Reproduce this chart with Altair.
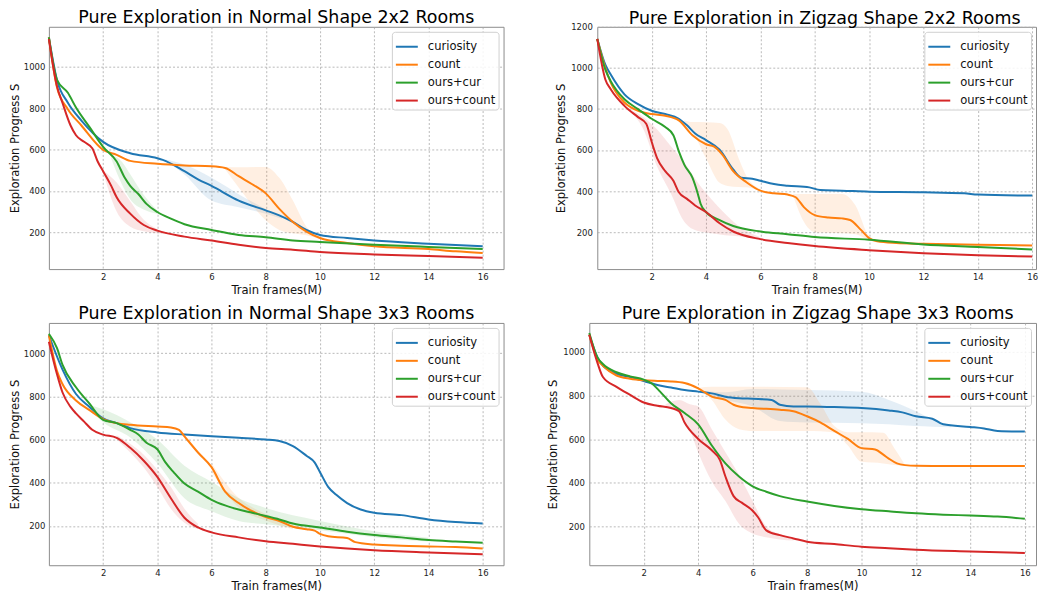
import altair as alt
import pandas as pd

SERIES = ["curiosity", "count", "ours+cur", "ours+count"]
COLORS = ["#1f77b4", "#ff7f0e", "#2ca02c", "#d62728"]
XTICKS = [2, 4, 6, 8, 10, 12, 14, 16]
FONT = "DejaVu Sans"

# ---------------- Panel 1: Normal Shape 2x2 ----------------
p1_cur_x = [0, 0.3, 0.7, 1.2, 2, 3, 4, 4.2, 5, 5.5, 6, 7, 8, 8.5, 9, 9.5, 10, 11, 12, 14, 16]
p1_cur_y = [1142, 935, 826, 740, 637, 582, 558, 550, 495, 456, 424, 353, 306, 282, 250, 211, 187, 172, 160, 145, 132]
p1_cnt_x = [0, 0.3, 0.7, 1.2, 2, 2.5, 3, 4, 5, 6, 6.5, 7, 7.5, 8, 8.5, 9, 9.5, 10, 11, 12, 14, 15, 16]
p1_cnt_y = [1142, 900, 795, 716, 598, 574, 545, 531, 523, 519, 511, 471, 432, 388, 313, 250, 203, 172, 148, 132, 119, 108, 100]
p1_oc_x = [0, 0.3, 0.7, 1, 1.5, 2, 2.5, 2.8, 3, 3.3, 3.6, 4, 4.5, 5, 6, 7, 8, 9, 10, 12, 14, 16]
p1_oc_y = [1142, 937, 874, 803, 708, 613, 542, 463, 424, 385, 337, 298, 266, 239, 211, 187, 176, 160, 153, 140, 129, 119]
p1_ok_x = [0, 0.3, 0.5, 0.8, 1, 1.3, 1.6, 1.8, 2, 2.3, 2.5, 3, 3.5, 4, 5, 6, 7, 8, 9, 10, 12, 14, 16]
p1_ok_y = [1134, 905, 826, 716, 669, 637, 606, 542, 495, 424, 369, 290, 235, 208, 179, 160, 140, 124, 116, 105, 93, 85, 77]

p1_cur_bx = [4.3, 5, 6, 7, 8, 8.6]
p1_cur_lo = [548, 479, 353, 321, 290, 265]
p1_cur_hi = [552, 527, 463, 384, 313, 275]
p1_cnt_bx = [6.5, 7, 8, 8.5, 9, 9.5, 10]
p1_cnt_lo = [505, 416, 258, 211, 195, 185, 166]
p1_cnt_hi = [515, 514, 516, 463, 353, 227, 178]
p1_oc_bx = [2.3, 2.7, 3, 3.5, 4]
p1_oc_lo = [555, 430, 360, 310, 290]
p1_oc_hi = [575, 540, 480, 380, 305]
p1_ok_bx = [2, 2.5, 3, 3.5, 4, 4.5]
p1_ok_lo = [490, 300, 227, 205, 195, 190]
p1_ok_hi = [500, 440, 350, 260, 215, 195]

# ---------------- Panel 2: Zigzag Shape 2x2 ----------------
p2_cur_x = [0, 0.3, 0.5, 1, 1.5, 2, 2.5, 3, 3.3, 3.6, 4, 4.5, 5, 5.3, 5.7, 6, 6.5, 7, 7.8, 8.2, 9, 10, 12, 13.5, 14, 16]
p2_cur_y = [1141, 1014, 966, 871, 823, 791, 775, 752, 720, 680, 648, 601, 505, 465, 460, 450, 434, 426, 418, 405, 402, 397, 394, 389, 383, 378]
p2_cnt_x = [0, 0.3, 0.5, 1, 1.5, 2, 2.5, 3, 3.5, 4, 4.3, 4.6, 5, 5.5, 6, 6.5, 7, 7.3, 7.6, 8, 8.5, 9, 9.3, 9.7, 10, 10.3, 11, 12, 14, 16]
p2_cnt_y = [1141, 998, 927, 831, 791, 775, 767, 744, 672, 628, 616, 577, 497, 442, 402, 389, 383, 370, 322, 283, 271, 267, 259, 211, 171, 155, 147, 143, 138, 135]
p2_oc_x = [0, 0.3, 0.5, 1, 1.5, 2, 2.5, 2.8, 3, 3.2, 3.5, 3.7, 3.8, 4, 4.5, 5, 6, 7, 8, 10, 12, 14, 16]
p2_oc_y = [1141, 990, 934, 847, 799, 752, 712, 672, 593, 529, 465, 386, 338, 298, 259, 230, 203, 190, 176, 163, 140, 128, 116]
p2_ok_x = [0, 0.3, 0.5, 1, 1.5, 1.8, 2, 2.2, 2.5, 2.8, 3, 3.3, 3.6, 4, 4.5, 5, 6, 7, 8, 10, 12, 14, 16]
p2_ok_y = [1141, 942, 895, 815, 760, 728, 640, 561, 497, 450, 394, 362, 330, 298, 243, 203, 166, 147, 132, 112, 97, 87, 81]

p2_cnt_bx = [3.2, 3.5, 4, 4.5, 4.8, 5.2, 5.5, 6]
p2_cnt_lo = [740, 690, 560, 440, 425, 420, 418, 398]
p2_cnt_hi = [745, 736, 735, 732, 700, 560, 470, 410]
p2_cnt_bx2 = [7.2, 7.6, 8, 9, 9.5, 10, 10.3]
p2_cnt_lo2 = [380, 250, 200, 195, 190, 160, 150]
p2_cnt_hi2 = [386, 386, 386, 386, 330, 180, 160]
p2_ok_bx = [1.2, 1.7, 2.2, 2.7, 3.2, 3.7, 4.2, 4.7, 5.2, 6]
p2_ok_lo = [790, 700, 520, 390, 250, 205, 195, 185, 180, 160]
p2_ok_hi = [800, 760, 700, 620, 540, 440, 360, 290, 230, 175]

# ---------------- Panel 3: Normal Shape 3x3 ----------------
p3_cur_x = [0, 0.5, 1, 1.5, 2, 2.5, 3, 4, 5, 6, 7, 8, 8.5, 9, 9.5, 9.8, 10, 10.3, 10.6, 11, 11.5, 12, 13, 14, 15, 16]
p3_cur_y = [1083, 925, 811, 751, 698, 676, 653, 633, 623, 615, 608, 600, 593, 570, 525, 494, 449, 381, 344, 306, 276, 261, 250, 230, 218, 211]
p3_cnt_x = [0, 0.3, 0.5, 1, 1.5, 2, 2.5, 3, 4, 4.5, 4.8, 5, 5.5, 6, 6.5, 7, 7.5, 8, 8.5, 9, 9.5, 9.8, 10, 10.3, 11, 11.3, 12, 13, 14, 15, 16]
p3_cnt_y = [1083, 917, 857, 781, 736, 695, 676, 668, 660, 656, 645, 615, 540, 472, 359, 306, 268, 241, 223, 196, 185, 178, 163, 152, 144, 125, 114, 108, 105, 102, 95]
p3_oc_x = [0, 0.3, 0.5, 1, 1.5, 2, 2.5, 3, 3.3, 3.6, 4, 4.3, 4.6, 5, 5.5, 6, 6.5, 7, 7.5, 8, 8.5, 9, 10, 11, 12, 13, 14, 15, 16]
p3_oc_y = [1090, 1023, 947, 842, 766, 691, 676, 645, 623, 585, 555, 494, 449, 396, 359, 321, 295, 276, 261, 246, 230, 211, 193, 173, 158, 147, 135, 128, 122]
p3_ok_x = [0, 0.3, 0.5, 0.8, 1, 1.3, 1.6, 2, 2.5, 3, 3.5, 4, 4.5, 5, 5.5, 6, 7, 8, 9, 10, 11, 12, 14, 16]
p3_ok_y = [1053, 902, 819, 751, 721, 683, 645, 623, 608, 562, 502, 427, 328, 238, 193, 170, 147, 129, 117, 105, 95, 87, 77, 69]

p3_cnt_bx = [6, 7, 8, 9]
p3_cnt_lo = [450, 285, 225, 185]
p3_cnt_hi = [490, 330, 255, 210]
p3_oc_bx = [1.5, 2, 3, 4, 5, 6, 7, 8, 10, 12, 14]
p3_oc_lo = [740, 680, 610, 490, 328, 268, 223, 208, 180, 148, 128]
p3_oc_hi = [760, 740, 680, 600, 479, 404, 328, 283, 223, 175, 145]
p3_ok_bx = [2.5, 3, 3.5, 4, 4.5, 5, 5.5]
p3_ok_lo = [600, 540, 470, 380, 280, 215, 185]
p3_ok_hi = [620, 580, 530, 460, 380, 280, 210]

# ---------------- Panel 4: Zigzag Shape 3x3 ----------------
p4_cur_x = [0, 0.3, 0.5, 1, 1.5, 2, 2.5, 3, 3.5, 4, 4.5, 5, 5.5, 6, 6.7, 7, 7.5, 8, 9, 10, 11, 11.5, 12, 12.6, 13, 14, 14.5, 15, 16]
p4_cur_y = [1079, 975, 937, 900, 885, 867, 848, 837, 825, 818, 810, 795, 788, 785, 780, 758, 750, 750, 747, 743, 732, 723, 705, 694, 668, 656, 649, 638, 635]
p4_cnt_x = [0, 0.3, 0.5, 1, 1.5, 2, 2.5, 3, 3.5, 4, 4.3, 4.5, 5, 5.3, 5.5, 6, 7, 7.5, 8, 8.5, 9, 9.5, 10, 10.5, 10.8, 11, 11.3, 11.6, 12, 14, 16]
p4_cnt_y = [1079, 965, 937, 892, 877, 870, 867, 865, 858, 833, 810, 795, 780, 758, 750, 743, 735, 728, 705, 676, 638, 601, 559, 553, 529, 511, 489, 481, 478, 477, 477]
p4_oc_x = [0, 0.3, 0.5, 1, 1.5, 2, 2.3, 2.6, 3, 3.5, 4, 4.5, 5, 5.5, 6, 6.5, 7, 8, 9, 10, 11, 12, 13, 14, 15, 16]
p4_oc_y = [1087, 975, 945, 907, 888, 873, 855, 818, 765, 720, 668, 571, 489, 429, 384, 359, 339, 314, 294, 279, 269, 260, 254, 250, 245, 235]
p4_ok_x = [0, 0.3, 0.5, 1, 1.5, 2, 2.5, 3, 3.3, 3.5, 4, 4.5, 4.8, 5, 5.3, 5.6, 6, 6.2, 6.5, 7, 7.5, 8, 9, 10, 11, 12, 14, 16]
p4_ok_y = [1079, 950, 885, 840, 803, 768, 753, 743, 728, 676, 601, 549, 504, 429, 339, 309, 272, 242, 182, 160, 145, 130, 119, 107, 100, 93, 85, 78]

p4_cur_bx = [4, 5, 6, 7, 8, 10, 11, 12, 12.6, 13.3]
p4_cur_lo = [815, 780, 750, 683, 676, 673, 668, 660, 657, 655]
p4_cur_hi = [822, 815, 830, 828, 825, 817, 780, 728, 690, 665]
p4_cnt_bx = [4, 4.5, 5, 5.5, 6, 8, 8.5, 9, 9.5, 10, 10.8, 11.2, 11.6]
p4_cnt_lo = [830, 780, 690, 646, 638, 638, 636, 630, 571, 496, 489, 482, 478]
p4_cnt_hi = [835, 840, 840, 840, 840, 838, 760, 660, 632, 632, 630, 560, 482]
p4_ok_bx = [2.8, 3.3, 3.7, 4, 4.5, 5, 5.5, 6, 6.5, 7, 7.5]
p4_ok_lo = [745, 720, 640, 540, 406, 317, 212, 167, 150, 140, 135]
p4_ok_hi = [760, 780, 760, 750, 646, 540, 436, 317, 200, 165, 148]


def lines_df(*pairs):
    rows = []
    for name, xs, ys in pairs:
        for x, y in zip(xs, ys):
            rows.append({"series": name, "x": x, "y": y})
    return pd.DataFrame(rows)


def bands_df(*items):
    rows = []
    for i, (name, xs, lo, hi) in enumerate(items):
        for x, a, b in zip(xs, lo, hi):
            rows.append({"series": name, "seg": i, "x": x, "lo": a, "hi": b})
    return pd.DataFrame(rows)


def panel(title, lines, bands, ydom, yticks, xmax, w, h, ylp, ytp, xtp, tdx=0, toff=0):
    xs = alt.Scale(domain=[0, xmax], nice=False, zero=False)
    ys = alt.Scale(domain=ydom, nice=False, zero=False)
    xaxis = alt.Axis(values=XTICKS, title="Train frames(M)", labelPadding=3, titlePadding=xtp)
    yaxis = alt.Axis(values=yticks, format="d", title="Exploration Progress S",
                     labelPadding=ylp, titlePadding=ytp)
    band = alt.Chart(bands).mark_area(opacity=0.12, interpolate="monotone").encode(
        x=alt.X("x:Q", scale=xs, axis=xaxis),
        y=alt.Y("lo:Q", scale=ys, axis=yaxis),
        y2="hi:Q",
        color=alt.Color("series:N", scale=alt.Scale(domain=SERIES, range=COLORS), legend=None),
        detail="seg:N",
    )
    line = alt.Chart(lines).mark_line(strokeWidth=2, interpolate="monotone").encode(
        x=alt.X("x:Q", scale=xs, axis=xaxis),
        y=alt.Y("y:Q", scale=ys, axis=yaxis),
        color=alt.Color(
            "series:N",
            scale=alt.Scale(domain=SERIES, range=COLORS),
            sort=SERIES,
            legend=alt.Legend(
                title=None, orient="top-right", offset=5, symbolType="stroke",
                symbolSize=484, symbolStrokeWidth=2, labelFontSize=11.6, labelFont=FONT,
                labelOffset=9, rowPadding=-1.8, padding=3, fillColor="rgba(255,255,255,0.85)",
                strokeColor="#d0d0d0", cornerRadius=3, labelColor="#111",
            ),
        ),
    )
    return alt.layer(band, line).resolve_scale(color="independent").properties(
        width=w, height=h,
        title=alt.TitleParams(title, fontSize=17.5, font=FONT, fontWeight="normal",
                              anchor="middle", frame="group", offset=toff, color="black", dx=tdx),
    )


p1 = panel(
    "Pure Exploration in Normal Shape 2x2 Rooms",
    lines_df(("curiosity", p1_cur_x, p1_cur_y), ("count", p1_cnt_x, p1_cnt_y),
             ("ours+cur", p1_oc_x, p1_oc_y), ("ours+count", p1_ok_x, p1_ok_y)),
    bands_df(("curiosity", p1_cur_bx, p1_cur_lo, p1_cur_hi), ("count", p1_cnt_bx, p1_cnt_lo, p1_cnt_hi),
             ("ours+cur", p1_oc_bx, p1_oc_lo, p1_oc_hi), ("ours+count", p1_ok_bx, p1_ok_lo, p1_ok_hi)),
    [22, 1193], [200, 400, 600, 800, 1000], 16.77, 456, 243, 4, 3, 4,
)
p2 = panel(
    "Pure Exploration in Zigzag Shape 2x2 Rooms",
    lines_df(("curiosity", p2_cur_x, p2_cur_y), ("count", p2_cnt_x, p2_cnt_y),
             ("ours+cur", p2_oc_x, p2_oc_y), ("ours+count", p2_ok_x, p2_ok_y)),
    bands_df(("count", p2_cnt_bx, p2_cnt_lo, p2_cnt_hi), ("count", p2_cnt_bx2, p2_cnt_lo2, p2_cnt_hi2),
             ("ours+count", p2_ok_bx, p2_ok_lo, p2_ok_hi)),
    [20, 1200], [200, 400, 600, 800, 1000, 1200], 16.14, 440, 243, 5, 4.4, 4, 8, -4.25,
)
p3 = panel(
    "Pure Exploration in Normal Shape 3x3 Rooms",
    lines_df(("curiosity", p3_cur_x, p3_cur_y), ("count", p3_cnt_x, p3_cnt_y),
             ("ours+cur", p3_oc_x, p3_oc_y), ("ours+count", p3_ok_x, p3_ok_y)),
    bands_df(("count", p3_cnt_bx, p3_cnt_lo, p3_cnt_hi), ("ours+cur", p3_oc_bx, p3_oc_lo, p3_oc_hi),
             ("ours+count", p3_ok_bx, p3_ok_lo, p3_ok_hi)),
    [18, 1140], [200, 400, 600, 800, 1000], 16.77, 456, 243, 4, 3, 3.5,
)
p4 = panel(
    "Pure Exploration in Zigzag Shape 3x3 Rooms",
    lines_df(("curiosity", p4_cur_x, p4_cur_y), ("count", p4_cnt_x, p4_cnt_y),
             ("ours+cur", p4_oc_x, p4_oc_y), ("ours+count", p4_ok_x, p4_ok_y)),
    bands_df(("curiosity", p4_cur_bx, p4_cur_lo, p4_cur_hi), ("count", p4_cnt_bx, p4_cnt_lo, p4_cnt_hi),
             ("ours+count", p4_ok_bx, p4_ok_lo, p4_ok_hi)),
    [22, 1133], [200, 400, 600, 800, 1000], 16.41, 448, 243, 5, 4.7, 3.5, 5,
)

top = alt.hconcat(p1, p2, spacing=50).resolve_scale(color="independent", x="independent", y="independent")
bottom = alt.hconcat(p3, p4, spacing=42).resolve_scale(color="independent", x="independent", y="independent")

chart = (
    alt.vconcat(top, bottom, spacing=8)
    .resolve_scale(color="independent", x="independent", y="independent")
    .properties(padding=0)
    .configure(font=FONT)
    .configure_view(stroke="#8c8c8c", strokeWidth=1)
    .configure_axis(
        grid=True, gridDash=[2, 2], gridColor="#a8a8a8", gridWidth=0.8, ticks=False, domain=False,
        labelFont=FONT, labelFontSize=8.5, labelColor="#222", titleFont=FONT, titleFontSize=11.6,
        titleFontWeight="normal", titleColor="#111",
    )
)

chart.save("out.html", embed_options={"renderer": "svg", "actions": False})
